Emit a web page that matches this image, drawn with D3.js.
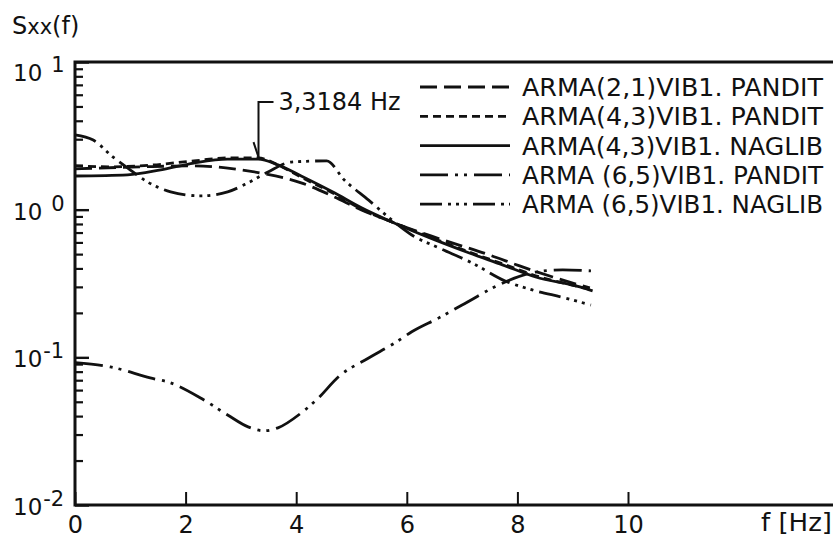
<!DOCTYPE html>
<html>
<head>
<meta charset="utf-8">
<script src="https://cdn.jsdelivr.net/npm/d3@7"></script>
<style>
  body { margin: 0; background: #fff; }
  text { font-family: "DejaVu Sans", sans-serif; fill: #111; }
</style>
</head>
<body>
<div class="chart"></div>
<script>
// canvas
var w = 833;
var h = 538;

// ---- data ----
const xTicks = [0, 2, 4, 6, 8, 10];
const yDecades = [0.01, 0.1, 1, 10];
const yLabels = [["10", "-2"], ["10", "-1"], ["10", "0"], ["10", "1"]];

const legendNames = [
  "ARMA(2,1)VIB1. PANDIT",
  "ARMA(4,3)VIB1. PANDIT",
  "ARMA(4,3)VIB1. NAGLIB",
  "ARMA (6,5)VIB1. PANDIT",
  "ARMA (6,5)VIB1. NAGLIB"
];

// ARMA(2,1) PANDIT
const f21P = [0, 1.18, 2.15, 2.87, 3.36, 4.09, 4.69, 5.18, 5.73, 6.22, 6.82, 7.49, 8.04, 8.64, 9.31];
const s21P = [1.89, 1.95, 1.98, 1.89, 1.77, 1.52, 1.22, 0.995, 0.826, 0.706, 0.596, 0.494, 0.416, 0.350, 0.295];
// ARMA(4,3) PANDIT
const f43P = [0, 0.64, 1.36, 2.15, 2.76, 3.31, 3.67, 4.09, 4.69, 5.18, 5.73, 6.51, 7.13, 7.73, 8.33, 9.13, 9.36];
const s43P = [1.98, 1.95, 2.0, 2.14, 2.24, 2.24, 2.01, 1.66, 1.28, 1.01, 0.826, 0.633, 0.516, 0.43, 0.357, 0.30, 0.286];
// ARMA(4,3) NAGLIB
const f43N = [0, 0.95, 1.55, 2.15, 2.76, 3.31, 3.67, 4.09, 4.69, 5.18, 5.73, 6.51, 7.13, 7.73, 8.33, 9.13, 9.36];
const s43N = [1.69, 1.72, 1.86, 2.07, 2.20, 2.20, 2.01, 1.69, 1.30, 1.03, 0.826, 0.624, 0.509, 0.423, 0.350, 0.300, 0.282];
// ARMA(6,5) PANDIT
const f65P = [0, 0.64, 1.36, 1.73, 2.27, 2.76, 3.13, 3.42, 3.67, 4.09, 4.40, 4.76, 5.31, 5.78, 6.09, 6.58, 7.00, 7.78, 8.33, 8.82, 9.33];
const s65P = [0.092, 0.0861, 0.0726, 0.0671, 0.0531, 0.0407, 0.0338, 0.0318, 0.0333, 0.042, 0.053, 0.0736, 0.099, 0.125, 0.149, 0.185, 0.226, 0.324, 0.378, 0.391, 0.385];
// ARMA(6,5) NAGLIB
const f65N = [0, 0.33, 0.69, 0.95, 1.31, 1.73, 2.27, 2.76, 3.13, 3.49, 3.91, 4.55, 4.87, 5.31, 5.73, 6.09, 6.58, 7.18, 7.78, 8.27, 8.87, 9.33];
const s65N = [3.21, 2.96, 2.27, 1.92, 1.54, 1.32, 1.24, 1.32, 1.52, 1.80, 2.10, 2.14, 1.59, 1.16, 0.851, 0.674, 0.551, 0.436, 0.329, 0.286, 0.252, 0.226];

const peakLabel = "3,3184 Hz";
const peakFreq = 3.3184;

// ---- svg ----
var svg = d3.select("body")
  .select(".chart")
  .append("svg")
  .attr("width", w)
  .attr("height", h);

const x = d3.scaleLinear().domain([0, 10]).range([75, 628]);
const y = d3.scaleLog().domain([0.01, 10]).range([505, 62]);

const dashes = ["17,7", "8,5", null, "28,7,3,6,3,7", "22,6,3,5,3,5,3,6"];

const series = [
  d3.zip(f21P, s21P),
  d3.zip(f43P, s43P),
  d3.zip(f43N, s43N),
  d3.zip(f65P, s65P),
  d3.zip(f65N, s65N)
];

// minor ticks of the log axis
const minor = [];
[0.01, 0.1, 1].forEach(d => { for (let k = 2; k <= 9; k++) minor.push(d * k); });

svg.append("g")
  .attr("transform", "translate(75,0)")
  .call(d3.axisLeft(y).tickValues(minor).tickSize(-8).tickFormat(""))
  .call(g => g.select(".domain").remove())
  .selectAll("line").attr("stroke", "#111").attr("stroke-width", 2.2);

svg.append("g")
  .attr("transform", "translate(75,0)")
  .call(d3.axisLeft(y).tickValues(yDecades).tickSize(-14).tickFormat(""))
  .call(g => g.select(".domain").remove())
  .selectAll("line").attr("stroke", "#111").attr("stroke-width", 2.4);

// x axis ticks + labels
const xa = svg.append("g")
  .attr("transform", "translate(0,505)")
  .call(d3.axisBottom(x).tickValues(xTicks).tickSize(-13).tickPadding(11).tickFormat(d3.format("d")));
xa.select(".domain").remove();
xa.selectAll("line").attr("stroke", "#111").attr("stroke-width", 2);
xa.selectAll("text")
  .style("font-family", "DejaVu Sans, sans-serif")
  .style("font-size", "24px")
  .attr("fill", "#111");

// frame (left, top, bottom)
svg.append("path")
  .attr("d", "M833,62 H75 V505 H833")
  .attr("fill", "none")
  .attr("stroke", "#111")
  .attr("stroke-width", 3);

// y labels like 10^-1
yDecades.forEach((d, i) => {
  const t = svg.append("text")
    .attr("x", 13)
    .attr("y", y(d) + (i === 3 ? 19 : 10))
    .style("font-size", "23px");
  t.append("tspan").text(yLabels[i][0]);
  t.append("tspan")
    .attr("dx", yLabels[i][1].length > 1 ? 1 : 9)
    .attr("dy", -9)
    .style("font-size", "21px")
    .text(yLabels[i][1]);
});

// y title
const yt = svg.append("text").attr("x", 12).attr("y", 34).style("font-size", "24px");
yt.append("tspan").text("S");
yt.append("tspan").style("font-size", "21px").text("xx");
yt.append("tspan").text("(f)");

// x title
svg.append("text")
  .attr("x", 761).attr("y", 531)
  .style("font-size", "24px")
  .attr("textLength", 71)
  .attr("lengthAdjust", "spacingAndGlyphs")
  .text("f [Hz]");

// curves
const line = d3.line()
  .x(d => x(d[0]))
  .y(d => y(d[1]))
  .curve(d3.curveMonotoneX);

svg.append("g")
  .selectAll("path")
  .data(series)
  .enter()
  .append("path")
  .attr("d", line)
  .attr("fill", "none")
  .attr("stroke", "#111")
  .attr("stroke-width", 2.8)
  .attr("stroke-dasharray", (d, i) => dashes[i]);

// peak marker
const px = x(peakFreq);
svg.append("path")
  .attr("d", `M${px},${y(2.2) - 2} V102 H${px + 15}`)
  .attr("fill", "none").attr("stroke", "#111").attr("stroke-width", 2);
svg.append("path")
  .attr("d", `M${px - 5},${y(2.2) - 17} L${px},${y(2.2) - 2}`)
  .attr("fill", "none").attr("stroke", "#111").attr("stroke-width", 2);
svg.append("text")
  .attr("x", px + 20).attr("y", 110)
  .style("font-size", "24px")
  .attr("textLength", 122)
  .attr("lengthAdjust", "spacingAndGlyphs")
  .text(peakLabel);

// legend
const lg = svg.append("g");
legendNames.forEach((name, i) => {
  const yy = 87 + i * 29.3;
  lg.append("line")
    .attr("x1", 420).attr("x2", 510)
    .attr("y1", yy).attr("y2", yy)
    .attr("stroke", "#111")
    .attr("stroke-width", 2.8)
    .attr("stroke-dasharray", dashes[i]);
  lg.append("text")
    .attr("x", 522).attr("y", yy + 9)
    .style("font-size", "24px")
    .attr("textLength", 301)
    .attr("lengthAdjust", "spacingAndGlyphs")
    .text(name);
});
</script>
</body>
</html>
